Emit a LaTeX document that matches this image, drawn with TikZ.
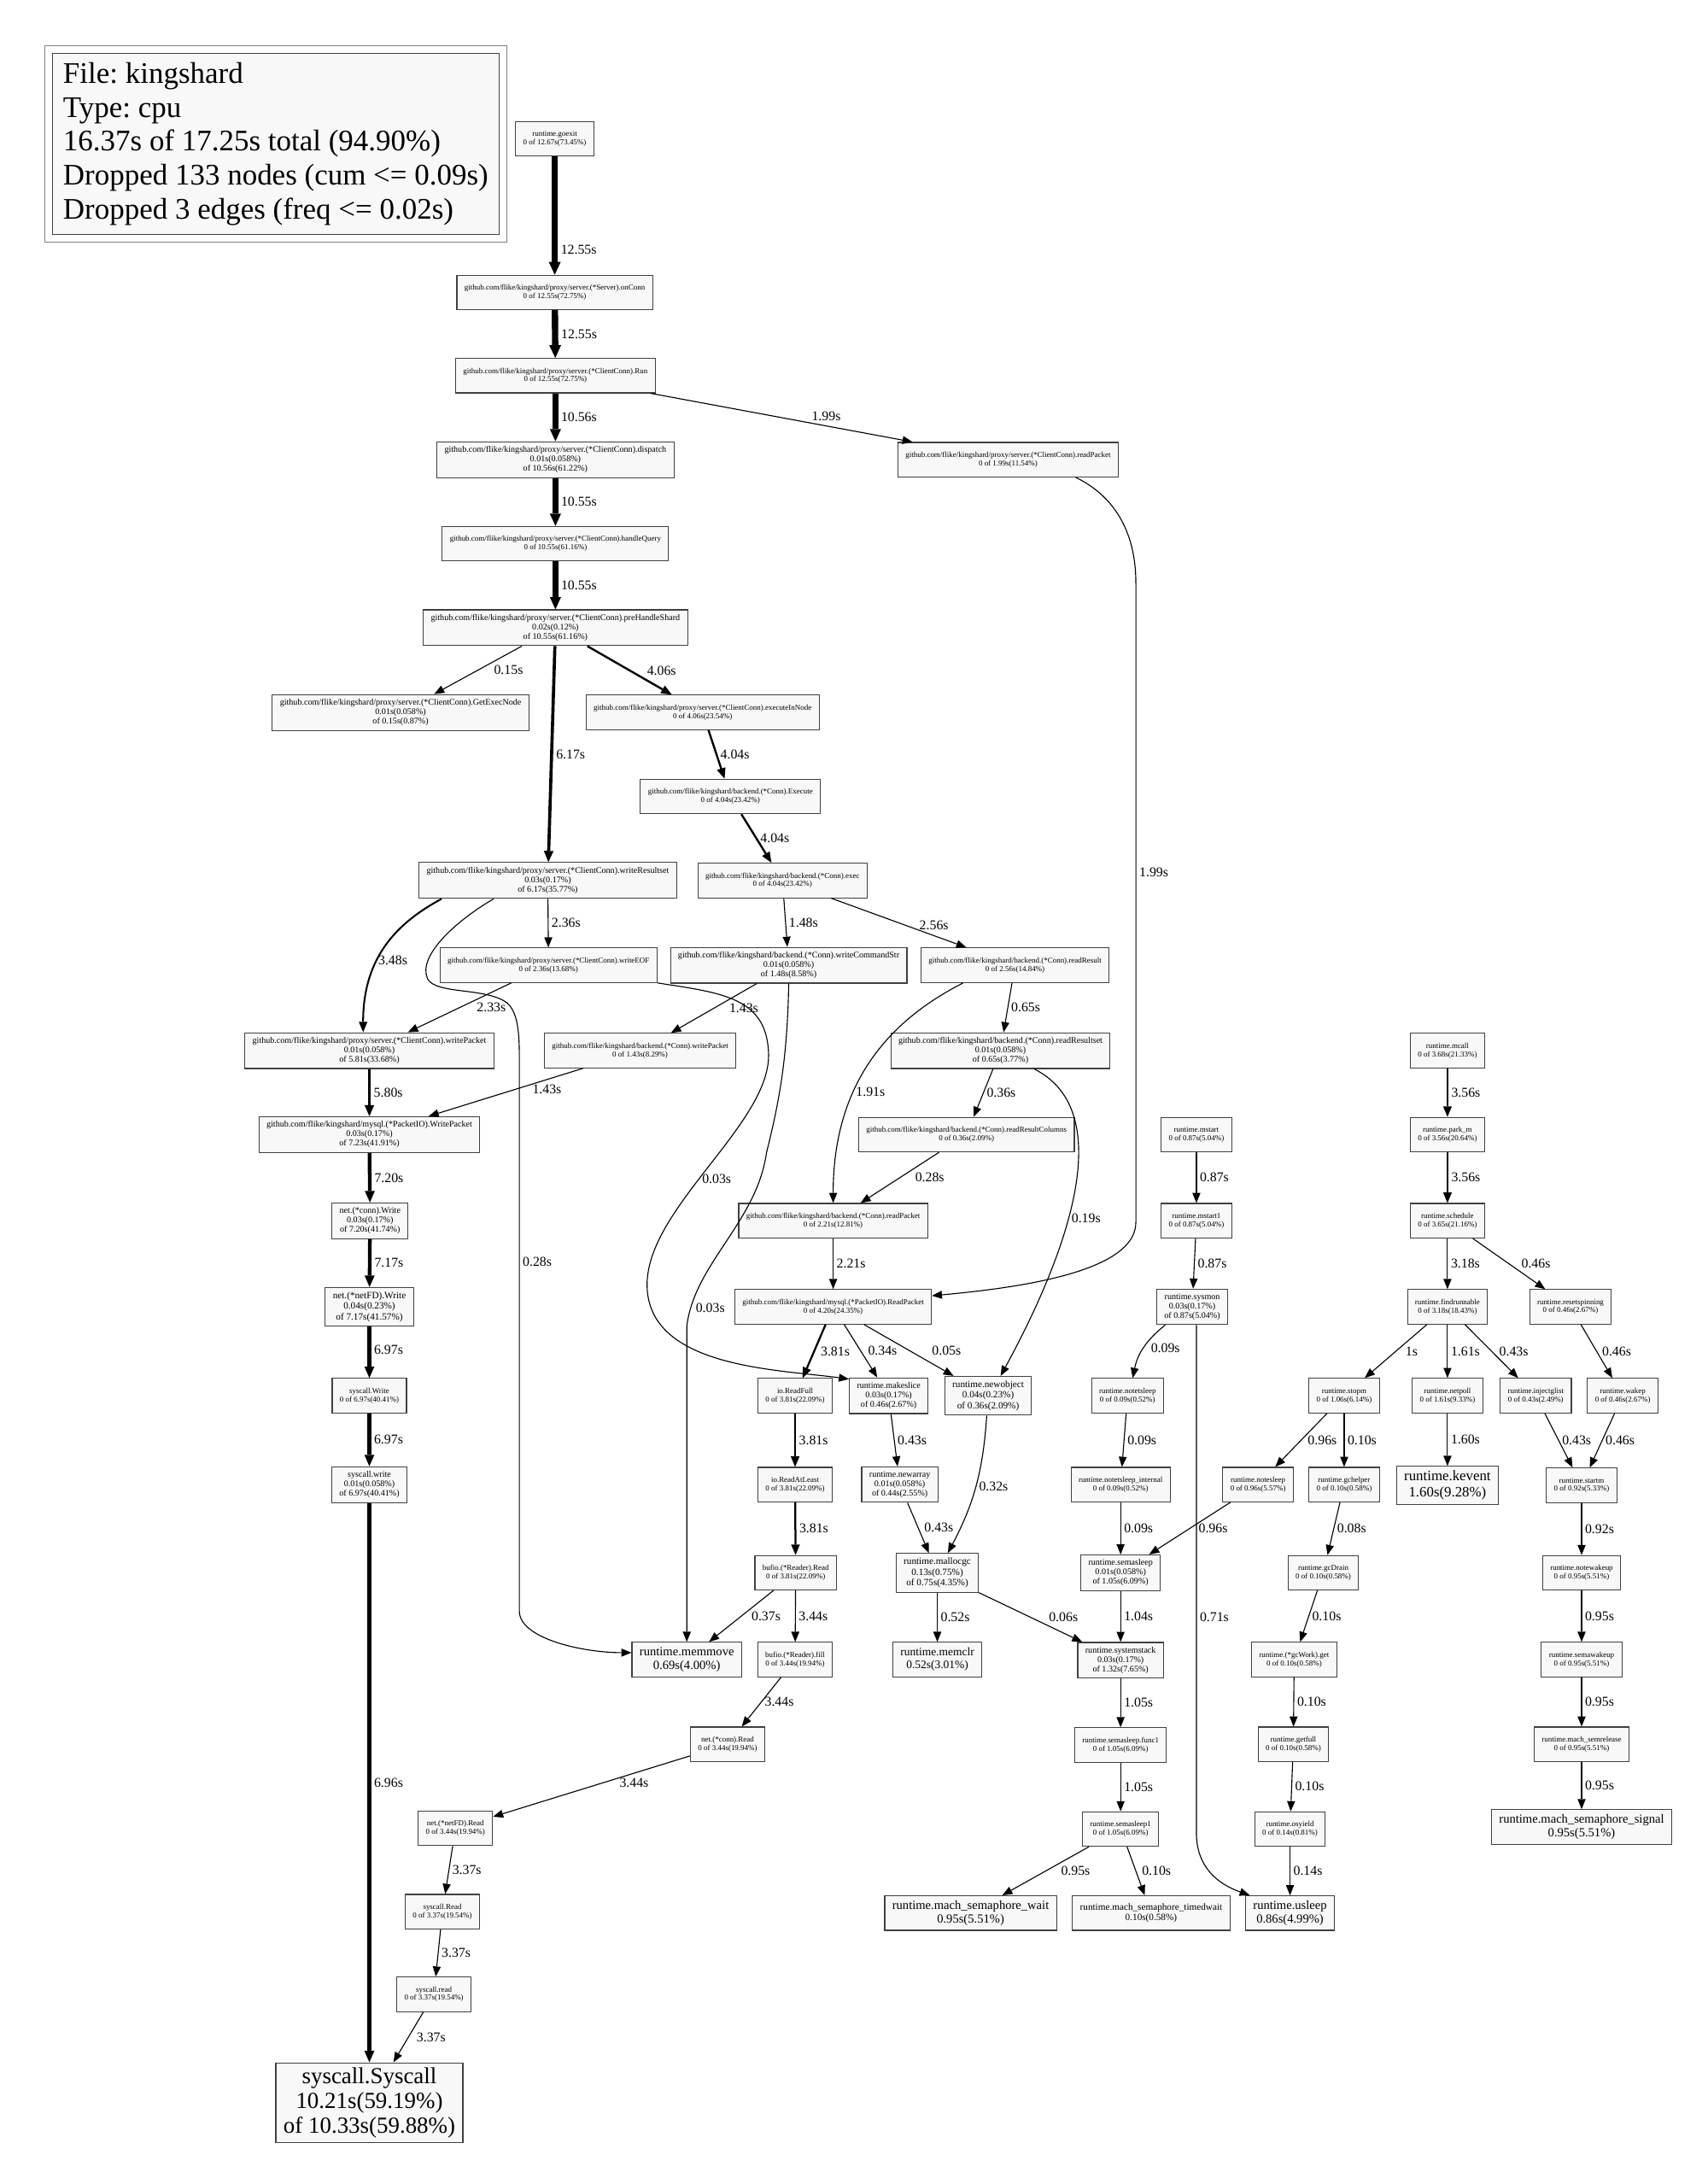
\documentclass[tikz,border=0pt]{standalone}
\usepackage{fontspec}
\setmainfont{Liberation Serif}
\usetikzlibrary{fit,arrows.meta}
\definecolor{boxfill}{HTML}{F8F8F8}
\frenchspacing

\begin{document}
\begin{tikzpicture}[x=0.1626mm, y=-0.1626mm, nodes = {align = center},
    fn/.style = {draw=black!75, fill=boxfill, line width=0.32pt, inner xsep=2.53pt,
      inner ysep=1.5pt, minimum height=11.5pt, minimum width=17.2pt},
    f8/.style = {fn, font=\fontsize{2.55}{2.8}\selectfont},
    f9/.style = {fn, font=\fontsize{2.87}{3.15}\selectfont},
    f10/.style = {fn, font=\fontsize{3.19}{3.5}\selectfont},
    f12/.style = {fn, font=\fontsize{3.83}{4.2}\selectfont},
    f13/.style = {fn, font=\fontsize{4.15}{4.55}\selectfont},
    f15/.style = {fn, font=\fontsize{4.79}{5.25}\selectfont},
    f24/.style = {fn, font=\fontsize{7.66}{8.3}\selectfont},
    legendbox/.style = {draw=black!75, fill=boxfill, line width=0.32pt, align=left,
      inner xsep=0pt, inner ysep=0pt, minimum width=148.8pt, minimum height=60.3pt,
      font=\fontsize{9.95}{11.3}\selectfont},
    call/.style = {draw, line width=#1,
      -{Triangle[length=3.2pt 0.5, width=2.5pt 0.7, line width=0pt]}},
    call/.default = 0.32pt,
    lbl/.style = {font=\fontsize{4.5}{5}\selectfont, inner sep=0pt, anchor=west, xshift=1pt},
    lblup/.style = {font=\fontsize{4.5}{5}\selectfont, inner sep=0pt, anchor=south, yshift=1.5pt},
    lblsw/.style = {font=\fontsize{4.5}{5}\selectfont, inner sep=0pt, anchor=south west},
    lblnw/.style = {font=\fontsize{4.5}{5}\selectfont, inner sep=0pt, anchor=north west}]

  \useasboundingbox (0,0) rectangle (1230,1568.3);

  \node (legend) [legendbox] at (198.6,103.6) {File: kingshard\\Type: cpu\\16.37s of
    17.25s total (94.90\%)\\Dropped 133 nodes (cum <= 0.09s)\\Dropped 3 edges (freq <= 0.02s)};
  \node (legendFrame) [draw=black!50, line width=0.32pt, fit=(legend), inner sep=2.5pt] {};

  \node (goexit) [f8] at (399.5,100) {runtime.goexit\\0 of 12.67s(73.45\%)};
  \node (onConn) [f8] at (399.5,210.6)
    {github.com/flike/kingshard/proxy/server.(*Server).onConn\\0 of 12.55s(72.75\%)};
  \node (run) [f8] at (400,270.5)
    {github.com/flike/kingshard/proxy/server.(*ClientConn).Run\\0 of 12.55s(72.75\%)};
  \node (dispatch) [f9] at (400,331)
    {github.com/flike/kingshard/proxy/server.(*ClientConn).dispatch\\0.01s(0.058\%)\\of 10.56s(61.22\%)};
  \node (srvRdPkt) [f8] at (726,331)
    {github.com/flike/kingshard/proxy/server.(*ClientConn).readPacket\\0 of 1.99s(11.54\%)};
  \node (handleQuery) [f8] at (400,391.5)
    {github.com/flike/kingshard/proxy/server.(*ClientConn).handleQuery\\0 of 10.55s(61.16\%)};
  \node (preHandle) [f9] at (400,452)
    {github.com/flike/kingshard/proxy/server.(*ClientConn).preHandleShard\\0.02s(0.12\%)\\of 10.55s(61.16\%)};
  \node (getExecNode) [f9] at (288.5,513)
    {github.com/flike/kingshard/proxy/server.(*ClientConn).GetExecNode\\0.01s(0.058\%)\\of 0.15s(0.87\%)};
  \node (execInNode) [f8] at (506,513)
    {github.com/flike/kingshard/proxy/server.(*ClientConn).executeInNode\\0 of 4.06s(23.54\%)};
  \node (execute) [f8] at (526,573.5)
    {github.com/flike/kingshard/backend.(*Conn).Execute\\0 of 4.04s(23.42\%)};
  \node (bkExec) [f8] at (563.5,634)
    {github.com/flike/kingshard/backend.(*Conn).exec\\0 of 4.04s(23.42\%)};
  \node (writeRS) [f9] at (394.5,634)
    {github.com/flike/kingshard/proxy/server.(*ClientConn).writeResultset\\0.03s(0.17\%)\\of 6.17s(35.77\%)};
  \node (writeEOF) [f8] at (395,695)
    {github.com/flike/kingshard/proxy/server.(*ClientConn).writeEOF\\0 of 2.36s(13.68\%)};
  \node (writeCmd) [f9] at (568,695)
    {github.com/flike/kingshard/backend.(*Conn).writeCommandStr\\0.01s(0.058\%)\\of 1.48s(8.58\%)};
  \node (readResult) [f8] at (731,695)
    {github.com/flike/kingshard/backend.(*Conn).readResult\\0 of 2.56s(14.84\%)};
  \node (srvWrPkt) [f9] at (266,756.5)
    {github.com/flike/kingshard/proxy/server.(*ClientConn).writePacket\\0.01s(0.058\%)\\of 5.81s(33.68\%)};
  \node (bkWrPkt) [f8] at (461,756.5)
    {github.com/flike/kingshard/backend.(*Conn).writePacket\\0 of 1.43s(8.29\%)};
  \node (readRS) [f9] at (720.5,756.5)
    {github.com/flike/kingshard/backend.(*Conn).readResultset\\0.01s(0.058\%)\\of 0.65s(3.77\%)};
  \node (ioWrPkt) [f9] at (266,817)
    {github.com/flike/kingshard/mysql.(*PacketIO).WritePacket\\0.03s(0.17\%)\\of 7.23s(41.91\%)};
  \node (readRSCols) [f8] at (696,817)
    {github.com/flike/kingshard/backend.(*Conn).readResultColumns\\0 of 0.36s(2.09\%)};
  \node (bkRdPkt) [f8] at (600,879)
    {github.com/flike/kingshard/backend.(*Conn).readPacket\\0 of 2.21s(12.81\%)};
  \node (connWrite) [f9] at (266.5,879) {net.(*conn).Write\\0.03s(0.17\%)\\of 7.20s(41.74\%)};
  \node (fdWrite) [f10] at (266,941) {net.(*netFD).Write\\0.04s(0.23\%)\\of 7.17s(41.57\%)};
  \node (ioRdPkt) [f8] at (600,941)
    {github.com/flike/kingshard/mysql.(*PacketIO).ReadPacket\\0 of 4.20s(24.35\%)};
  \node (sysWriteU) [f8] at (266,1005) {syscall.Write\\0 of 6.97s(40.41\%)};
  \node (sysWriteL) [f9] at (266,1069) {syscall.write\\0.01s(0.058\%)\\of 6.97s(40.41\%)};
  \node (readFull) [f8] at (572.6,1005) {io.ReadFull\\0 of 3.81s(22.09\%)};
  \node (makeslice) [f9] at (640,1005) {runtime.makeslice\\0.03s(0.17\%)\\of 0.46s(2.67\%)};
  \node (newobject) [f10] at (711.6,1005) {runtime.newobject\\0.04s(0.23\%)\\of 0.36s(2.09\%)};
  \node (readAtLeast) [f8] at (572.6,1069) {io.ReadAtLeast\\0 of 3.81s(22.09\%)};
  \node (newarray) [f9] at (648,1069) {runtime.newarray\\0.01s(0.058\%)\\of 0.44s(2.55\%)};
  \node (bufRead) [f8] at (573,1132.5) {bufio.(*Reader).Read\\0 of 3.81s(22.09\%)};
  \node (mallocgc) [f10] at (675,1132.5) {runtime.mallocgc\\0.13s(0.75\%)\\of 0.75s(4.35\%)};
  \node (memmove) [f13] at (494.6,1195) {runtime.memmove\\0.69s(4.00\%)};
  \node (bufFill) [f8] at (572.6,1195) {bufio.(*Reader).fill\\0 of 3.44s(19.94\%)};
  \node (memclr) [f12] at (675,1195) {runtime.memclr\\0.52s(3.01\%)};
  \node (sysstack) [f9] at (807,1195.5) {runtime.systemstack\\0.03s(0.17\%)\\of 1.32s(7.65\%)};
  \node (connRead) [f8] at (524,1256) {net.(*conn).Read\\0 of 3.44s(19.94\%)};
  \node (fdRead) [f8] at (328,1316.5) {net.(*netFD).Read\\0 of 3.44s(19.94\%)};
  \node (sysReadU) [f8] at (318.6,1376.5) {syscall.Read\\0 of 3.37s(19.54\%)};
  \node (sysReadL) [f8] at (312.5,1436) {syscall.read\\0 of 3.37s(19.54\%)};
  \node (syscall) [f24] at (266,1514) {syscall.Syscall\\10.21s(59.19\%)\\of 10.33s(59.88\%)};
  \node (semaFunc) [f8] at (807,1256.5) {runtime.semasleep.func1\\0 of 1.05s(6.09\%)};
  \node (semasleep1) [f8] at (807,1317) {runtime.semasleep1\\0 of 1.05s(6.09\%)};
  \node (semWait) [f13] at (699,1377.5) {runtime.mach\_semaphore\_wait\\0.95s(5.51\%)};
  \node (semTimed) [f10] at (829,1377.5) {runtime.mach\_semaphore\_timedwait\\0.10s(0.58\%)};
  \node (usleep) [f13] at (929,1377.5) {runtime.usleep\\0.86s(4.99\%)};
  \node (mstart) [f8] at (861.6,817) {runtime.mstart\\0 of 0.87s(5.04\%)};
  \node (mstart1) [f8] at (861.6,879) {runtime.mstart1\\0 of 0.87s(5.04\%)};
  \node (sysmon) [f9] at (858.6,941) {runtime.sysmon\\0.03s(0.17\%)\\of 0.87s(5.04\%)};
  \node (notetsleep) [f8] at (812,1005) {runtime.notetsleep\\0 of 0.09s(0.52\%)};
  \node (notetsleepInt) [f8] at (807,1069) {runtime.notetsleep\_internal\\0 of 0.09s(0.52\%)};
  \node (semasleep) [f9] at (807,1132.5) {runtime.semasleep\\0.01s(0.058\%)\\of 1.05s(6.09\%)};
  \node (notesleep) [f8] at (906,1069) {runtime.notesleep\\0 of 0.96s(5.57\%)};
  \node (stopm) [f8] at (968,1005) {runtime.stopm\\0 of 1.06s(6.14\%)};
  \node (gchelper) [f8] at (968,1069) {runtime.gchelper\\0 of 0.10s(0.58\%)};
  \node (gcDrain) [f8] at (953,1132.5) {runtime.gcDrain\\0 of 0.10s(0.58\%)};
  \node (gcGet) [f8] at (932,1195) {runtime.(*gcWork).get\\0 of 0.10s(0.58\%)};
  \node (getfull) [f8] at (931.4,1256) {runtime.getfull\\0 of 0.10s(0.58\%)};
  \node (osyield) [f8] at (929,1317) {runtime.osyield\\0 of 0.14s(0.81\%)};
  \node (mcall) [f8] at (1042.4,756.5) {runtime.mcall\\0 of 3.68s(21.33\%)};
  \node (parkM) [f8] at (1042.4,817) {runtime.park\_m\\0 of 3.56s(20.64\%)};
  \node (schedule) [f8] at (1042.4,879) {runtime.schedule\\0 of 3.65s(21.16\%)};
  \node (findrun) [f8] at (1042.4,941) {runtime.findrunnable\\0 of 3.18s(18.43\%)};
  \node (resetspin) [f8] at (1131,941) {runtime.resetspinning\\0 of 0.46s(2.67\%)};
  \node (netpoll) [f8] at (1042.4,1005) {runtime.netpoll\\0 of 1.61s(9.33\%)};
  \node (injectg) [f8] at (1106,1005) {runtime.injectglist\\0 of 0.43s(2.49\%)};
  \node (wakep) [f8] at (1168.6,1005) {runtime.wakep\\0 of 0.46s(2.67\%)};
  \node (kevent) [f15] at (1042.4,1069.5) {runtime.kevent\\1.60s(9.28\%)};
  \node (startm) [f8] at (1139,1069.5) {runtime.startm\\0 of 0.92s(5.33\%)};
  \node (notewakeup) [f8] at (1139,1132.5) {runtime.notewakeup\\0 of 0.95s(5.51\%)};
  \node (semawakeup) [f8] at (1139,1195) {runtime.semawakeup\\0 of 0.95s(5.51\%)};
  \node (semrelease) [f8] at (1139,1256) {runtime.mach\_semrelease\\0 of 0.95s(5.51\%)};
  \node (semSignal) [f13] at (1139,1315.5) {runtime.mach\_semaphore\_signal\\0.95s(5.51\%)};

  \path[call=2.1pt] (goexit) edge node[lbl,pos=.79] {12.55s} (onConn);
  \path[call=2.1pt] (onConn) edge node[lbl] {12.55s} (run);
  \path[call=1.77pt] (run) edge node[lbl] {10.56s} (dispatch);
  \path[call] (run) edge node[lblup,pos=.67] {1.99s} (srvRdPkt);
  \path[call=1.77pt] (dispatch) edge node[lbl] {10.55s} (handleQuery);
  \path[call=1.77pt] (handleQuery) edge node[lbl] {10.55s} (preHandle);
  \path[call] (preHandle) edge node[lbl,xshift=4.2pt] {0.15s} (getExecNode);
  \path[call=0.68pt] (preHandle) edge node[lbl,xshift=4.5pt] {4.06s} (execInNode);
  \path[call=1.04pt] (preHandle) edge node[lbl] {6.17s} (writeRS);
  \path[call=0.68pt] (execInNode) edge node[lbl] {4.04s} (execute);
  \path[call=0.68pt] (execute) edge node[lbl] {4.04s} (bkExec);

  \draw[call=0.58pt] ([shift={(-76.5,0)}]writeRS.south) .. controls (285,665) and (261.5,690)
    .. node[lbl,pos=.6,xshift=-1pt] {3.48s} ([shift={(-4.5,0)}]srvWrPkt.north);
  \draw[call] ([shift={(-39,0)}]writeRS.south) .. controls (330,662) and (300,688) .. (308,705)
    .. controls (314,716) and (350,711) .. (365,722) .. controls (372,728) and (374,740) .. (374,760)
    -- node[lbl,pos=.372] {0.28s} (374,1160) .. controls (374,1180) and (420,1190)
    .. ([shift={(0,-5)}]memmove.west);
  \path[call] (writeRS) edge node[lbl] {2.36s} (writeEOF);
  \path[call] (writeEOF) edge node[lbl,xshift=4.6pt] {2.33s} (srvWrPkt);
  \draw[call] (writeEOF.south east) .. controls (520,715) and (553,718) .. (553.5,760)
    .. controls (553.5,810) and (466,870) .. node[lbl,pos=.55] {0.03s} (466,925)
    .. controls (466,985) and (560,986) .. ([shift={(0,-12)}]makeslice.west);

  \path[call] (bkExec) edge node[lbl] {1.48s} (writeCmd);
  \path[call] (bkExec) edge node[lblsw,pos=.65] {2.56s} (readResult);
  \path[call] (writeCmd) edge node[lbl,xshift=4pt] {1.43s} (bkWrPkt);
  \draw[call] (writeCmd.south) .. controls (567,760) and (562,790) .. (552,830)
    .. controls (545,880) and (500,910) .. node[lbl,pos=.9,xshift=.6pt] {0.03s} (494.6,955)
    -- (memmove.north);
  \draw[call] ([shift={(-37.4,0)}]readResult.south) .. controls (640,735) and (600,780)
    .. node[lbl,pos=.63,xshift=-.5pt] {1.91s} (bkRdPkt.north);
  \path[call] (readResult) edge node[lbl] {0.65s} (readRS);
  \path[call=0.97pt] (srvWrPkt) edge node[lbl] {5.80s} (ioWrPkt);
  \path[call] (bkWrPkt) edge node[lblnw,pos=.33] {1.43s} (ioWrPkt);
  \path[call] (readRS) edge node[lbl] {0.36s} (readRSCols);
  \draw[call] ([shift={(24.3,0)}]readRS.south) .. controls (805,800) and (770,900)
    .. node[lbl,pos=.58] {0.19s} ([shift={(9,0)}]newobject.north);
  \path[call] (readRSCols) edge node[lbl,xshift=4pt] {0.28s} (bkRdPkt);
  \path[call] (bkRdPkt) edge node[lbl] {2.21s} (ioRdPkt);
  \draw[call] ([shift={(48.7,0)}]srvRdPkt.south) .. controls (800,356) and (818,380) .. (818,420)
    -- node[lbl,pos=.452] {1.99s} (818,880) .. controls (818,910) and (760,925)
    .. ([shift={(0,-8)}]ioRdPkt.east);

  \path[call=1.21pt] (ioWrPkt) edge node[lbl] {7.20s} (connWrite);
  \path[call=1.21pt] (connWrite) edge node[lbl] {7.17s} (fdWrite);
  \path[call=1.17pt] (fdWrite) edge node[lbl,pos=.45] {6.97s} (sysWriteU);
  \path[call=1.17pt] (sysWriteU) edge node[lbl] {6.97s} (sysWriteL);
  \path[call=1.17pt] (sysWriteL) edge node[lbl] {6.96s} (syscall);

  \path[call=0.64pt] (ioRdPkt) edge node[lbl,xshift=.9pt] {3.81s} (readFull);
  \path[call] (ioRdPkt) edge node[lbl,xshift=1.3pt] {0.34s} (makeslice);
  \path[call] (ioRdPkt) edge node[lbl,xshift=6.6pt] {0.05s} (newobject);
  \path[call] (makeslice) edge node[lbl] {0.43s} (newarray);
  \path[call] (newobject) edge[bend left=12] node[lbl] {0.32s} (mallocgc);
  \path[call] (newarray) edge node[lbl,xshift=.9pt] {0.43s} (mallocgc);
  \path[call=0.64pt] (readFull) edge node[lbl] {3.81s} (readAtLeast);
  \path[call=0.64pt] (readAtLeast) edge node[lbl] {3.81s} (bufRead);
  \path[call] (bufRead) edge node[lbl,xshift=2.3pt] {0.37s} (memmove);
  \path[call] (bufRead) edge node[lbl] {3.44s} (bufFill);
  \path[call] (bufFill) edge node[lbl] {3.44s} (connRead);
  \path[call] (connRead) edge node[lblnw,pos=.36] {3.44s} (fdRead);
  \path[call] (fdRead) edge node[lbl] {3.37s} (sysReadU);
  \path[call] (sysReadU) edge node[lbl] {3.37s} (sysReadL);
  \path[call] (sysReadL) edge node[lbl,xshift=1.6pt] {3.37s} (syscall);
  \path[call] (mallocgc) edge node[lbl] {0.52s} (memclr);
  \path[call] (mallocgc) edge node[lbl,xshift=5pt] {0.06s} (sysstack);

  \path[call] (sysstack) edge node[lbl] {1.05s} (semaFunc);
  \path[call] (semaFunc) edge node[lbl] {1.05s} (semasleep1);
  \path[call] (semasleep1) edge node[lbl,xshift=4pt] {0.95s} (semWait);
  \path[call] (semasleep1) edge node[lbl,xshift=.9pt] {0.10s} (semTimed);
  \draw[call] ([shift={(3,0)}]sysmon.south) -- node[lbl,pos=.574] {0.71s} (861.6,1320)
    .. controls (861.6,1345) and (878,1357) .. ([shift={(-29,0)}]usleep.north);
  \path[call] (osyield) edge node[lbl] {0.14s} (usleep);
  \path[call] (mstart) edge node[lbl] {0.87s} (mstart1);
  \path[call] (mstart1) edge node[lbl] {0.87s} (sysmon);
  \path[call] (sysmon) edge[bend right=20] node[lbl,xshift=1.3pt] {0.09s} (notetsleep);
  \path[call] (notetsleep) edge node[lbl] {0.09s} (notetsleepInt);
  \path[call] (notetsleepInt) edge node[lbl] {0.09s} (semasleep);
  \path[call] (notesleep) edge node[lbl,xshift=1.8pt] {0.96s} (semasleep);
  \path[call] (semasleep) edge node[lbl] {1.04s} (sysstack);
  \path[call] (stopm) edge node[lbl,xshift=1.1pt] {0.96s} (notesleep);
  \path[call] (stopm) edge node[lbl] {0.10s} (gchelper);
  \path[call] (gchelper) edge node[lbl] {0.08s} (gcDrain);
  \path[call] (gcDrain) edge node[lbl] {0.10s} (gcGet);
  \path[call] (gcGet) edge node[lbl] {0.10s} (getfull);
  \path[call] (getfull) edge node[lbl] {0.10s} (osyield);

  \path[call=0.6pt] (mcall) edge node[lbl] {3.56s} (parkM);
  \path[call=0.6pt] (parkM) edge node[lbl] {3.56s} (schedule);
  \path[call] (schedule) edge node[lbl] {3.18s} (findrun);
  \path[call] (schedule) edge node[lbl,xshift=3pt] {0.46s} (resetspin);
  \path[call] (findrun) edge node[lbl,xshift=2.1pt] {1s} (stopm);
  \path[call] (findrun) edge node[lbl] {1.61s} (netpoll);
  \path[call] (findrun) edge node[lbl,xshift=1.4pt] {0.43s} (injectg);
  \path[call] (resetspin) edge node[lbl,xshift=.7pt] {0.46s} (wakep);
  \path[call] (netpoll) edge node[lbl] {1.60s} (kevent);
  \path[call] (injectg) edge node[lbl] {0.43s} (startm);
  \path[call] (wakep) edge node[lbl] {0.46s} (startm);
  \path[call] (startm) edge node[lbl] {0.92s} (notewakeup);
  \path[call] (notewakeup) edge node[lbl] {0.95s} (semawakeup);
  \path[call] (semawakeup) edge node[lbl] {0.95s} (semrelease);
  \path[call] (semrelease) edge node[lbl] {0.95s} (semSignal);
\end{tikzpicture}
\end{document}
